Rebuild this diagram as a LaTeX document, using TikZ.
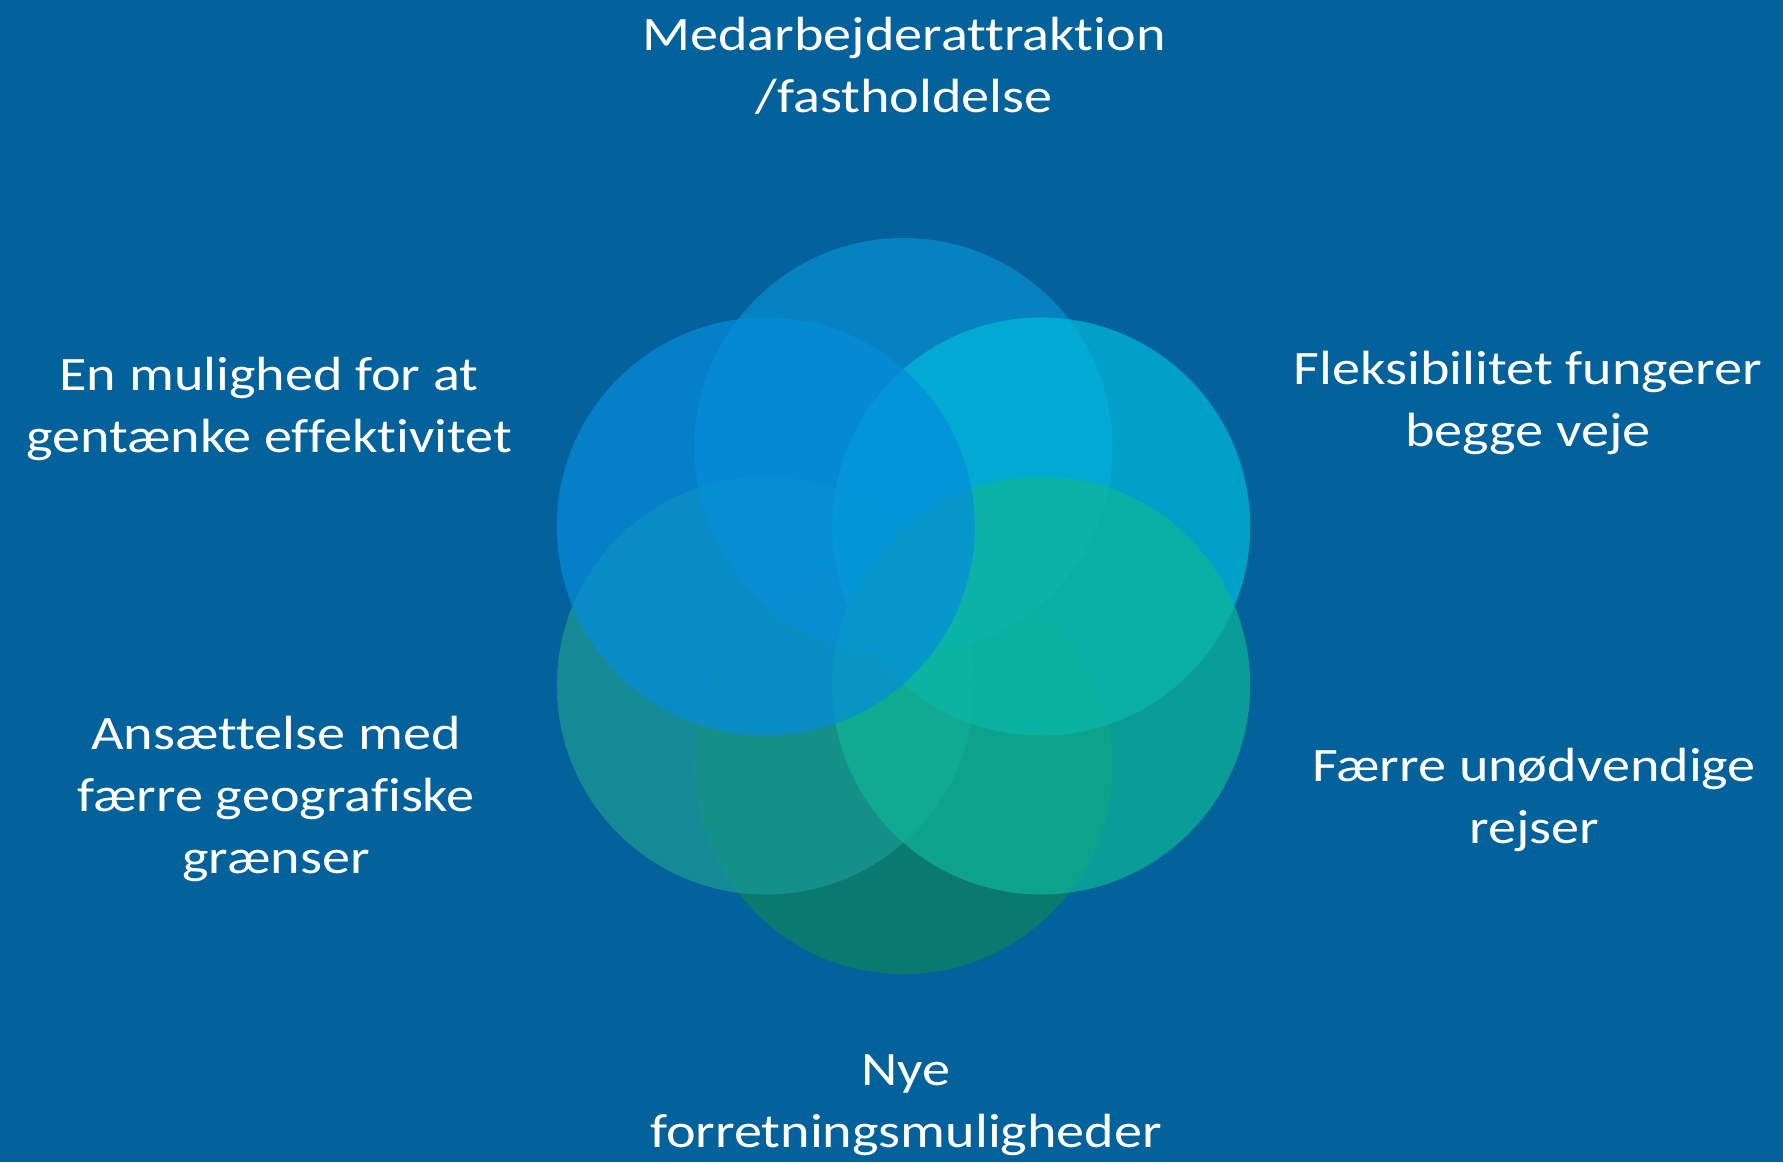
\documentclass[tikz,border=0pt]{standalone}
\usepackage{fontspec}
\setmainfont[FakeStretch=1.17,Ligatures=NoCommon]{Carlito}
\definecolor{bgblue}{RGB}{3,98,156}
\definecolor{ctop}{RGB}{10,144,210}
\definecolor{cul}{RGB}{6,141,219}
\definecolor{cur}{RGB}{0,187,219}
\definecolor{clr}{RGB}{14,182,150}
\definecolor{cbot}{RGB}{13,132,93}
\definecolor{cll}{RGB}{27,155,147}
\tikzset{
  petal/.style={fill opacity=0.7, draw=none},
  lbl/.style={text=white, align=center, font=\fontsize{48}{62}\selectfont, inner sep=0pt}
}
\begin{document}
\begin{tikzpicture}[x=1pt,y=-1pt]
\fill[bgblue] (0,0) rectangle (1783,1162);
\useasboundingbox (0,0) rectangle (1783,1162);
\coordinate (ptop) at (903.5,447);
\coordinate (pbot) at (903.5,765);
\coordinate (pul) at (765.8,526.5);
\coordinate (pll) at (765.8,685.5);
\coordinate (pur) at (1041.2,526.5);
\coordinate (plr) at (1041.2,685.5);
\fill[petal, fill=cbot] (pbot) circle (209);
\fill[petal, fill=cll] (pll) circle (209);
\fill[petal, fill=ctop] (ptop) circle (209);
\fill[petal, fill=cur] (pur) circle (209);
\fill[petal, fill=clr] (plr) circle (209);
\fill[petal, fill=cul] (pul) circle (209);
\node[lbl] (ttop) at (904,66) {Medarbejderattraktion\\/fastholdelse};
\node[lbl] (tul) at (269,409) {En mulighed for at\\gentænke effektivitet};
\node[lbl] (tur) at (1528,403) {Fleksibilitet fungerer\\begge veje};
\node[lbl] (tll) at (276,799) {Ansættelse med\\færre geografiske\\grænser};
\node[lbl] (tlr) at (1534,800) {Færre unødvendige\\rejser};
\node[lbl] (tbot) at (906,1105) {Nye\\forretningsmuligheder};
\end{tikzpicture}
\end{document}
